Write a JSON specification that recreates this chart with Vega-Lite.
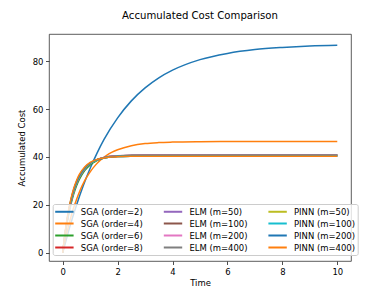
{
  "$schema": "https://vega.github.io/schema/vega-lite/v6.json",
  "width": 302,
  "height": 227,
  "autosize": {"type": "none"},
  "padding": {"left": 49, "top": 34, "right": 39, "bottom": 32},
  "background": "white",
  "title": {"text": "Accumulated Cost Comparison", "fontSize": 10.15, "fontWeight": "normal", "font": "DejaVu Sans", "color": "black", "baseline": "alphabetic", "offset": 5, "anchor": "middle"},
  "config": {
    "font": "DejaVu Sans",
    "view": {"stroke": "#333", "strokeWidth": 0.8},
    "axis": {"grid": false, "domain": false, "tickColor": "#222", "tickSize": 3.5, "tickWidth": 0.8, "labelFontSize": 8.46, "labelColor": "black", "labelFont": "DejaVu Sans", "titleFont": "DejaVu Sans", "titleFontSize": 8.46, "titleFontWeight": "normal", "titleColor": "black", "labelPadding": 2.5}
  },
  "data": {"values": [
    {"s":"SGA (order=2)","t":0,"c":0},{"s":"SGA (order=2)","t":0.25,"c":10.6},{"s":"SGA (order=2)","t":0.5,"c":19.9},{"s":"SGA (order=2)","t":0.75,"c":28.1},{"s":"SGA (order=2)","t":1,"c":35.3},{"s":"SGA (order=2)","t":1.25,"c":41.6},{"s":"SGA (order=2)","t":1.5,"c":47.2},{"s":"SGA (order=2)","t":2,"c":56.3},{"s":"SGA (order=2)","t":2.5,"c":63.4},{"s":"SGA (order=2)","t":3,"c":68.8},{"s":"SGA (order=2)","t":3.5,"c":73.0},{"s":"SGA (order=2)","t":4,"c":76.2},{"s":"SGA (order=2)","t":5,"c":80.6},{"s":"SGA (order=2)","t":6,"c":83.2},{"s":"SGA (order=2)","t":7,"c":84.8},{"s":"SGA (order=2)","t":8,"c":85.7},{"s":"SGA (order=2)","t":9,"c":86.3},{"s":"SGA (order=2)","t":10,"c":86.6},
    {"s":"SGA (order=4)","t":0,"c":0},{"s":"SGA (order=4)","t":0.1,"c":5.7},{"s":"SGA (order=4)","t":0.2,"c":10.6},{"s":"SGA (order=4)","t":0.3,"c":15.0},{"s":"SGA (order=4)","t":0.4,"c":18.9},{"s":"SGA (order=4)","t":0.5,"c":22.2},{"s":"SGA (order=4)","t":0.6,"c":25.2},{"s":"SGA (order=4)","t":0.8,"c":30.1},{"s":"SGA (order=4)","t":1,"c":33.8},{"s":"SGA (order=4)","t":1.2,"c":36.7},{"s":"SGA (order=4)","t":1.4,"c":39.0},{"s":"SGA (order=4)","t":1.6,"c":40.7},{"s":"SGA (order=4)","t":1.8,"c":42.0},{"s":"SGA (order=4)","t":2,"c":43.0},{"s":"SGA (order=4)","t":2.5,"c":44.7},{"s":"SGA (order=4)","t":3,"c":45.6},{"s":"SGA (order=4)","t":3.5,"c":46.0},{"s":"SGA (order=4)","t":4,"c":46.2},{"s":"SGA (order=4)","t":5,"c":46.4},{"s":"SGA (order=4)","t":6,"c":46.5},{"s":"SGA (order=4)","t":10,"c":46.5},
    {"s":"SGA (order=6)","t":0,"c":0},{"s":"SGA (order=6)","t":0.1,"c":8.4},{"s":"SGA (order=6)","t":0.2,"c":15.0},{"s":"SGA (order=6)","t":0.3,"c":20.3},{"s":"SGA (order=6)","t":0.4,"c":24.5},{"s":"SGA (order=6)","t":0.5,"c":27.9},{"s":"SGA (order=6)","t":0.6,"c":30.5},{"s":"SGA (order=6)","t":0.8,"c":34.3},{"s":"SGA (order=6)","t":1,"c":36.7},{"s":"SGA (order=6)","t":1.2,"c":38.2},{"s":"SGA (order=6)","t":1.4,"c":39.2},{"s":"SGA (order=6)","t":1.6,"c":39.8},{"s":"SGA (order=6)","t":1.8,"c":40.2},{"s":"SGA (order=6)","t":2,"c":40.4},{"s":"SGA (order=6)","t":2.5,"c":40.67},{"s":"SGA (order=6)","t":3,"c":40.76},{"s":"SGA (order=6)","t":10,"c":40.8},
    {"s":"SGA (order=8)","t":0,"c":0},{"s":"SGA (order=8)","t":0.1,"c":9.0},{"s":"SGA (order=8)","t":0.2,"c":16.0},{"s":"SGA (order=8)","t":0.3,"c":21.4},{"s":"SGA (order=8)","t":0.4,"c":25.7},{"s":"SGA (order=8)","t":0.5,"c":29.0},{"s":"SGA (order=8)","t":0.6,"c":31.5},{"s":"SGA (order=8)","t":0.8,"c":35.1},{"s":"SGA (order=8)","t":1,"c":37.3},{"s":"SGA (order=8)","t":1.2,"c":38.6},{"s":"SGA (order=8)","t":1.4,"c":39.4},{"s":"SGA (order=8)","t":1.6,"c":39.9},{"s":"SGA (order=8)","t":1.8,"c":40.15},{"s":"SGA (order=8)","t":2,"c":40.3},{"s":"SGA (order=8)","t":2.5,"c":40.5},{"s":"SGA (order=8)","t":3,"c":40.57},{"s":"SGA (order=8)","t":10,"c":40.6},
    {"s":"ELM (m=50)","t":0,"c":0},{"s":"ELM (m=50)","t":0.1,"c":8.9},{"s":"ELM (m=50)","t":0.2,"c":15.8},{"s":"ELM (m=50)","t":0.3,"c":21.2},{"s":"ELM (m=50)","t":0.4,"c":25.6},{"s":"ELM (m=50)","t":0.5,"c":28.9},{"s":"ELM (m=50)","t":0.6,"c":31.5},{"s":"ELM (m=50)","t":0.8,"c":35.0},{"s":"ELM (m=50)","t":1,"c":37.3},{"s":"ELM (m=50)","t":1.2,"c":38.6},{"s":"ELM (m=50)","t":1.4,"c":39.5},{"s":"ELM (m=50)","t":1.6,"c":40.0},{"s":"ELM (m=50)","t":1.8,"c":40.3},{"s":"ELM (m=50)","t":2,"c":40.45},{"s":"ELM (m=50)","t":2.5,"c":40.65},{"s":"ELM (m=50)","t":3,"c":40.72},{"s":"ELM (m=50)","t":10,"c":40.75},
    {"s":"ELM (m=100)","t":0,"c":0},{"s":"ELM (m=100)","t":0.1,"c":8.9},{"s":"ELM (m=100)","t":0.2,"c":15.8},{"s":"ELM (m=100)","t":0.3,"c":21.2},{"s":"ELM (m=100)","t":0.4,"c":25.6},{"s":"ELM (m=100)","t":0.5,"c":28.9},{"s":"ELM (m=100)","t":0.6,"c":31.5},{"s":"ELM (m=100)","t":0.8,"c":35.0},{"s":"ELM (m=100)","t":1,"c":37.3},{"s":"ELM (m=100)","t":1.2,"c":38.6},{"s":"ELM (m=100)","t":1.4,"c":39.5},{"s":"ELM (m=100)","t":1.6,"c":40.0},{"s":"ELM (m=100)","t":1.8,"c":40.3},{"s":"ELM (m=100)","t":2,"c":40.45},{"s":"ELM (m=100)","t":2.5,"c":40.66},{"s":"ELM (m=100)","t":3,"c":40.74},{"s":"ELM (m=100)","t":10,"c":40.78},
    {"s":"ELM (m=200)","t":0,"c":0},{"s":"ELM (m=200)","t":0.1,"c":8.9},{"s":"ELM (m=200)","t":0.2,"c":15.8},{"s":"ELM (m=200)","t":0.3,"c":21.2},{"s":"ELM (m=200)","t":0.4,"c":25.6},{"s":"ELM (m=200)","t":0.5,"c":28.9},{"s":"ELM (m=200)","t":0.6,"c":31.5},{"s":"ELM (m=200)","t":0.8,"c":35.0},{"s":"ELM (m=200)","t":1,"c":37.3},{"s":"ELM (m=200)","t":1.2,"c":38.6},{"s":"ELM (m=200)","t":1.4,"c":39.5},{"s":"ELM (m=200)","t":1.6,"c":40.0},{"s":"ELM (m=200)","t":1.8,"c":40.3},{"s":"ELM (m=200)","t":2,"c":40.46},{"s":"ELM (m=200)","t":2.5,"c":40.67},{"s":"ELM (m=200)","t":3,"c":40.75},{"s":"ELM (m=200)","t":10,"c":40.8},
    {"s":"ELM (m=400)","t":0,"c":0},{"s":"ELM (m=400)","t":0.1,"c":8.9},{"s":"ELM (m=400)","t":0.2,"c":15.8},{"s":"ELM (m=400)","t":0.3,"c":21.2},{"s":"ELM (m=400)","t":0.4,"c":25.6},{"s":"ELM (m=400)","t":0.5,"c":28.9},{"s":"ELM (m=400)","t":0.6,"c":31.5},{"s":"ELM (m=400)","t":0.8,"c":35.0},{"s":"ELM (m=400)","t":1,"c":37.3},{"s":"ELM (m=400)","t":1.2,"c":38.6},{"s":"ELM (m=400)","t":1.4,"c":39.5},{"s":"ELM (m=400)","t":1.6,"c":40.0},{"s":"ELM (m=400)","t":1.8,"c":40.3},{"s":"ELM (m=400)","t":2,"c":40.46},{"s":"ELM (m=400)","t":2.5,"c":40.67},{"s":"ELM (m=400)","t":3,"c":40.76},{"s":"ELM (m=400)","t":10,"c":40.82},
    {"s":"PINN (m=50)","t":0,"c":0},{"s":"PINN (m=50)","t":0.1,"c":9.2},{"s":"PINN (m=50)","t":0.2,"c":16.4},{"s":"PINN (m=50)","t":0.3,"c":21.9},{"s":"PINN (m=50)","t":0.4,"c":26.1},{"s":"PINN (m=50)","t":0.5,"c":29.4},{"s":"PINN (m=50)","t":0.6,"c":31.9},{"s":"PINN (m=50)","t":0.8,"c":35.4},{"s":"PINN (m=50)","t":1,"c":37.4},{"s":"PINN (m=50)","t":1.2,"c":38.6},{"s":"PINN (m=50)","t":1.4,"c":39.3},{"s":"PINN (m=50)","t":1.6,"c":39.8},{"s":"PINN (m=50)","t":1.8,"c":40.0},{"s":"PINN (m=50)","t":2,"c":40.2},{"s":"PINN (m=50)","t":2.5,"c":40.34},{"s":"PINN (m=50)","t":3,"c":40.38},{"s":"PINN (m=50)","t":10,"c":40.4},
    {"s":"PINN (m=100)","t":0,"c":0},{"s":"PINN (m=100)","t":0.1,"c":9.2},{"s":"PINN (m=100)","t":0.2,"c":16.4},{"s":"PINN (m=100)","t":0.3,"c":21.9},{"s":"PINN (m=100)","t":0.4,"c":26.1},{"s":"PINN (m=100)","t":0.5,"c":29.4},{"s":"PINN (m=100)","t":0.6,"c":31.9},{"s":"PINN (m=100)","t":0.8,"c":35.4},{"s":"PINN (m=100)","t":1,"c":37.4},{"s":"PINN (m=100)","t":1.2,"c":38.6},{"s":"PINN (m=100)","t":1.4,"c":39.3},{"s":"PINN (m=100)","t":1.6,"c":39.8},{"s":"PINN (m=100)","t":1.8,"c":40.0},{"s":"PINN (m=100)","t":2,"c":40.2},{"s":"PINN (m=100)","t":2.5,"c":40.33},{"s":"PINN (m=100)","t":3,"c":40.37},{"s":"PINN (m=100)","t":10,"c":40.4},
    {"s":"PINN (m=200)","t":0,"c":0},{"s":"PINN (m=200)","t":0.1,"c":9.3},{"s":"PINN (m=200)","t":0.2,"c":16.6},{"s":"PINN (m=200)","t":0.3,"c":22.1},{"s":"PINN (m=200)","t":0.4,"c":26.4},{"s":"PINN (m=200)","t":0.5,"c":29.6},{"s":"PINN (m=200)","t":0.6,"c":32.1},{"s":"PINN (m=200)","t":0.8,"c":35.5},{"s":"PINN (m=200)","t":1,"c":37.5},{"s":"PINN (m=200)","t":1.2,"c":38.7},{"s":"PINN (m=200)","t":1.4,"c":39.3},{"s":"PINN (m=200)","t":1.6,"c":39.8},{"s":"PINN (m=200)","t":1.8,"c":40.0},{"s":"PINN (m=200)","t":2,"c":40.15},{"s":"PINN (m=200)","t":2.5,"c":40.3},{"s":"PINN (m=200)","t":3,"c":40.34},{"s":"PINN (m=200)","t":10,"c":40.35},
    {"s":"PINN (m=400)","t":0,"c":0},{"s":"PINN (m=400)","t":0.1,"c":9.7},{"s":"PINN (m=400)","t":0.2,"c":17.1},{"s":"PINN (m=400)","t":0.3,"c":22.6},{"s":"PINN (m=400)","t":0.4,"c":26.9},{"s":"PINN (m=400)","t":0.5,"c":30.1},{"s":"PINN (m=400)","t":0.6,"c":32.6},{"s":"PINN (m=400)","t":0.8,"c":35.8},{"s":"PINN (m=400)","t":1,"c":37.7},{"s":"PINN (m=400)","t":1.2,"c":38.8},{"s":"PINN (m=400)","t":1.4,"c":39.4},{"s":"PINN (m=400)","t":1.6,"c":39.8},{"s":"PINN (m=400)","t":1.8,"c":40.0},{"s":"PINN (m=400)","t":2,"c":40.13},{"s":"PINN (m=400)","t":2.5,"c":40.26},{"s":"PINN (m=400)","t":3,"c":40.29},{"s":"PINN (m=400)","t":10,"c":40.3}
  ]},
  "mark": {"type": "line", "strokeWidth": 1.5, "interpolate": "monotone"},
  "encoding": {
    "x": {"field": "t", "type": "quantitative", "title": "Time", "scale": {"domain": [-0.5, 10.5], "nice": false, "zero": false}, "axis": {"values": [0, 2, 4, 6, 8, 10], "titlePadding": 3}},
    "y": {"field": "c", "type": "quantitative", "title": "Accumulated Cost", "scale": {"domain": [-3.4, 91.3], "nice": false, "zero": false}, "axis": {"values": [0, 20, 40, 60, 80], "titlePadding": 6}},
    "color": {"field": "s", "type": "nominal",
      "scale": {
        "domain": ["SGA (order=2)", "SGA (order=4)", "SGA (order=6)", "SGA (order=8)", "ELM (m=50)", "ELM (m=100)", "ELM (m=200)", "ELM (m=400)", "PINN (m=50)", "PINN (m=100)", "PINN (m=200)", "PINN (m=400)"],
        "range": ["#1f77b4", "#ff7f0e", "#2ca02c", "#d62728", "#9467bd", "#8c564b", "#e377c2", "#7f7f7f", "#bcbd22", "#17becf", "#1f77b4", "#ff7f0e"]
      },
      "legend": {"title": null, "orient": "none", "legendX": 3.7, "legendY": 170, "columns": 3, "symbolType": "M-2.3,0H2.3", "symbolSize": 64, "symbolStrokeWidth": 2, "symbolOffset": 4.2, "labelFontSize": 8.46, "labelFont": "DejaVu Sans", "labelColor": "black", "labelOffset": 11.4, "columnPadding": 16.6, "rowPadding": 2, "padding": 2.5, "fillColor": "rgba(255,255,255,0.8)", "strokeColor": "#cccccc", "cornerRadius": 2}
    }
  }
}
